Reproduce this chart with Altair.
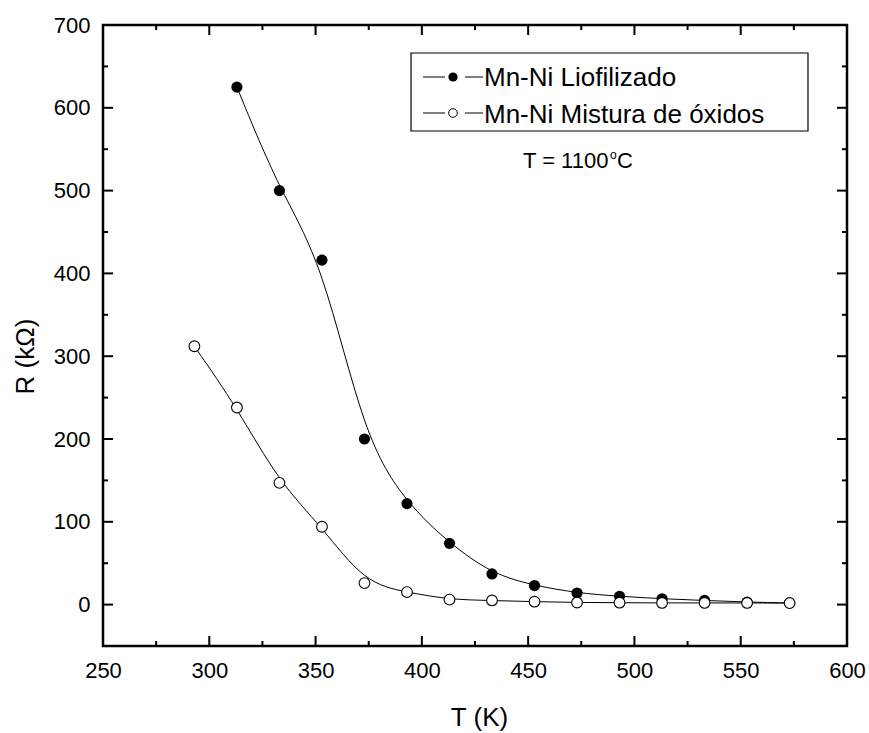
import altair as alt
import pandas as pd

# ---- data ----
T_lio = [313, 333, 353, 373, 393, 413, 433, 453, 473, 493, 513, 533, 553, 573]
R_lio = [625, 500, 416, 200, 122, 74, 37, 23, 14, 10, 7, 5, 3, 2]
T_mix = [293, 313, 333, 353, 373, 393, 413, 433, 453, 473, 493, 513, 533, 553, 573]
R_mix = [312, 238, 147, 94, 26, 15, 6, 5, 3.5, 2.5, 2.3, 2, 2, 2, 1.8]
series_names = ["Mn-Ni Liofilizado", "Mn-Ni Mistura de óxidos"]
annot_parts = ["T = 1100", "o", "C"]

x_major = [250, 300, 350, 400, 450, 500, 550, 600]
x_minor = [275, 325, 375, 425, 475, 525, 575]
y_major = [0, 100, 200, 300, 400, 500, 600, 700]
y_minor = [50, 150, 250, 350, 450, 550, 650]

W, H = 744, 621
FONT = "Liberation Sans"

x_scale = alt.Scale(domain=[250, 600], nice=False, zero=False)
y_scale = alt.Scale(domain=[-50, 700], nice=False, zero=False)

df_lio = pd.DataFrame({"T": T_lio, "R": R_lio})
df_mix = pd.DataFrame({"T": T_mix, "R": R_mix})

x_axis = alt.Axis(values=x_major, title="T (K)", labelPadding=14, titleY=79, labelFlush=False,
                  labelOverlap=False, titleBaseline="alphabetic", titleX=376)
y_axis = alt.Axis(values=y_major, title="R (kΩ)", labelPadding=13, titleAngle=270, labelFlush=False,
                  labelOverlap=False, titleX=-70, titleY=331, titleBaseline="alphabetic",
                  titleAlign="center")

X = alt.X("T:Q", scale=x_scale, axis=x_axis)
Y = alt.Y("R:Q", scale=y_scale, axis=y_axis)

line_lio = alt.Chart(df_lio).mark_line(interpolate="basis", color="black", strokeWidth=1).encode(x=X, y=Y)
line_mix = alt.Chart(df_mix).mark_line(interpolate="basis", color="black", strokeWidth=1).encode(x=X, y=Y)
pts_lio = alt.Chart(df_lio).mark_circle(color="black", size=125, opacity=1).encode(x=X, y=Y)
pts_mix = alt.Chart(df_mix).mark_point(shape="circle", filled=True, fill="white", stroke="black",
                                       strokeWidth=1.1, size=115, opacity=1).encode(x=X, y=Y)

# ---- inward ticks on all four sides ----
def xticks(vals, length, top):
    d = pd.DataFrame({"T": vals})
    y0 = 0 if top else H
    y1 = length if top else H - length
    return alt.Chart(d).mark_rule(color="black", strokeWidth=2).encode(
        x=X, y=alt.value(y0), y2=alt.value(y1))

def yticks(vals, length, right):
    d = pd.DataFrame({"R": vals})
    x0 = W if right else 0
    x1 = W - length if right else length
    return alt.Chart(d).mark_rule(color="black", strokeWidth=2).encode(
        y=Y, x=alt.value(x0), x2=alt.value(x1))

ticks = [
    xticks(x_major, 10, False), xticks(x_minor, 5, False),
    xticks(x_major, 10, True), xticks(x_minor, 5, True),
    yticks(y_major, 10, False), yticks(y_minor, 5, False),
    yticks(y_major, 10, True), yticks(y_minor, 5, True),
]

# ---- legend ----
one = pd.DataFrame({"k": [0]})
leg_box = alt.Chart(one).mark_rect(fill="white", stroke="black", strokeWidth=1.2).encode(
    x=alt.value(308), x2=alt.value(705), y=alt.value(28), y2=alt.value(106))

legend_layers = [leg_box]
rows = [(52, 61, True), (88, 98, False)]
for name, (yc, yb, filled) in zip(series_names, rows):
    d = pd.DataFrame({"label": [name]})
    legend_layers.append(alt.Chart(d).mark_rule(color="black", strokeWidth=1).encode(
        x=alt.value(320), x2=alt.value(342), y=alt.value(yc)))
    legend_layers.append(alt.Chart(d).mark_rule(color="black", strokeWidth=1).encode(
        x=alt.value(362), x2=alt.value(380), y=alt.value(yc)))
    if filled:
        legend_layers.append(alt.Chart(d).mark_circle(color="black", size=85, opacity=1).encode(
            x=alt.value(350), y=alt.value(yc)))
    else:
        legend_layers.append(alt.Chart(d).mark_point(shape="circle", filled=True, fill="white",
                                                     stroke="black", strokeWidth=1, size=75,
                                                     opacity=1).encode(
            x=alt.value(350), y=alt.value(yc)))
    legend_layers.append(alt.Chart(d).mark_text(align="left", baseline="alphabetic", font=FONT,
                                                fontSize=26, color="black").encode(
        x=alt.value(381), y=alt.value(yb), text="label:N"))

# ---- annotation T = 1100 oC ----
ann = []
ann_pos = [(420, 143, 22), (507, 134, 12), (514, 143, 22)]
for part, (ax, ay, fs) in zip(annot_parts, ann_pos):
    d = pd.DataFrame({"t": [part]})
    ann.append(alt.Chart(d).mark_text(align="left", baseline="alphabetic", font=FONT,
                                      fontSize=fs, color="black").encode(
        x=alt.value(ax), y=alt.value(ay), text="t:N"))

chart = alt.layer(
    line_lio, line_mix, pts_lio, pts_mix, *ticks, *legend_layers, *ann
).properties(
    width=W, height=H,
    autosize=alt.AutoSizeParams(type="none"),
    padding={"left": 103, "top": 25, "right": 22, "bottom": 87},
    background="white",
).configure_view(
    stroke="black", strokeWidth=2.5
).configure_axis(
    labelFont=FONT, labelFontSize=22, labelColor="black",
    titleFont=FONT, titleFontSize=26, titleFontWeight="normal", titleColor="black",
    domain=False, ticks=False, tickSize=0, grid=False,
)

chart.save("out.html", embed_options={"renderer": "svg", "actions": False})
